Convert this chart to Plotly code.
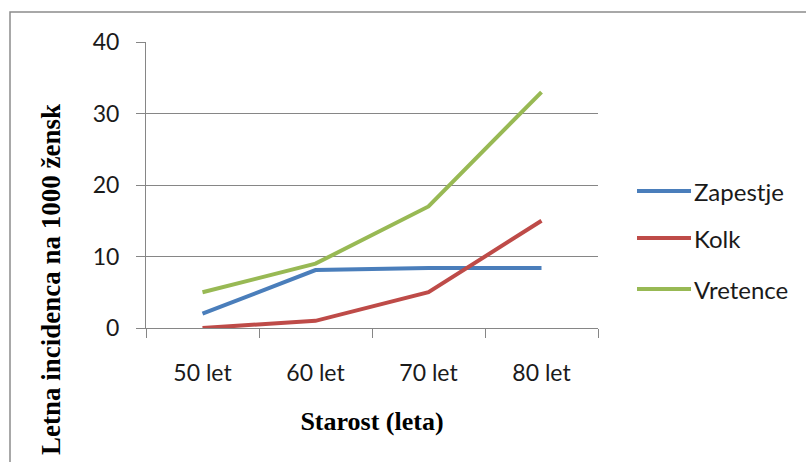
import plotly.graph_objects as go

# Age groups and annual incidence per 1000 women, by fracture site
starost = ["50 let", "60 let", "70 let", "80 let"]
zapestje = [2, 8.1, 8.4, 8.4]
kolk = [0, 1, 5, 15]
vretence = [5, 9, 17, 33]

imena = ["Zapestje", "Kolk", "Vretence"]
barve = ["#4A7EBB", "#BE4B48", "#98B954"]
serije = [zapestje, kolk, vretence]

W, H = 806, 462
L, R, T, B = 146, 208, 42, 134
pw, ph = W - L - R, H - T - B

def px_x(x):
    return (x - L) / pw

def px_y(y):
    return (H - B - y) / ph

fig = go.Figure()
for ime, barva, vrednosti in zip(imena, barve, serije):
    fig.add_trace(go.Scatter(
        x=starost, y=vrednosti, name=ime, mode="lines",
        line=dict(color=barva, width=4), showlegend=False,
    ))

# Legend drawn as line samples with labels to the right of the plot
legend_y = [191, 238, 289]
shapes = []
annotations = []
for ime, barva, ly in zip(imena, barve, legend_y):
    shapes.append(dict(type="line", xref="paper", yref="paper",
                       x0=px_x(637), x1=px_x(691), y0=px_y(ly), y1=px_y(ly),
                       line=dict(color=barva, width=4)))
    annotations.append(dict(xref="paper", yref="paper", x=px_x(692), y=px_y(ly),
                            text=ime, showarrow=False, xanchor="left", yanchor="middle",
                            font=dict(family="Lato", size=24, color="#1a1a1a")))

# Vertical axis title, set low beside the axis
annotations.append(dict(xref="paper", yref="paper", x=px_x(51), y=px_y(280),
                        text="Letna incidenca na 1000 žensk", textangle=-90,
                        showarrow=False, xanchor="center", yanchor="middle",
                        font=dict(family="Liberation Serif", size=27, color="black",
                                  weight="bold")))

# Chart frame
shapes.append(dict(type="rect", xref="paper", yref="paper",
                   x0=px_x(10), x1=px_x(812), y0=px_y(12), y1=px_y(475),
                   line=dict(color="#8c8c8c", width=1.5), layer="below"))

fig.update_layout(
    width=W, height=H,
    margin=dict(l=L, r=R, t=T, b=B),
    paper_bgcolor="white", plot_bgcolor="white",
    shapes=shapes, annotations=annotations,
    xaxis=dict(
        type="category", range=[-0.5, 3.5], tickson="boundaries",
        ticks="outside", ticklen=9, tickcolor="#868686", tickwidth=1,
        showline=True, linecolor="#868686", linewidth=1,
        showgrid=False, ticklabelstandoff=24,
        tickfont=dict(family="Lato", size=23, color="#1a1a1a"),
        title=dict(text="Starost (leta)", standoff=27,
                   font=dict(family="Liberation Serif", size=26, color="black", weight="bold")),
    ),
    yaxis=dict(
        range=[0, 40], tickvals=[0, 10, 20, 30, 40],
        ticks="outside", ticklen=9, tickcolor="#868686", tickwidth=1,
        showline=True, linecolor="#868686", linewidth=1,
        showgrid=True, gridcolor="#868686", gridwidth=1, zeroline=False,
        ticklabelstandoff=12,
        tickfont=dict(family="Lato", size=23, color="#1a1a1a"),
    ),
)

fig.write_html("out.html")
